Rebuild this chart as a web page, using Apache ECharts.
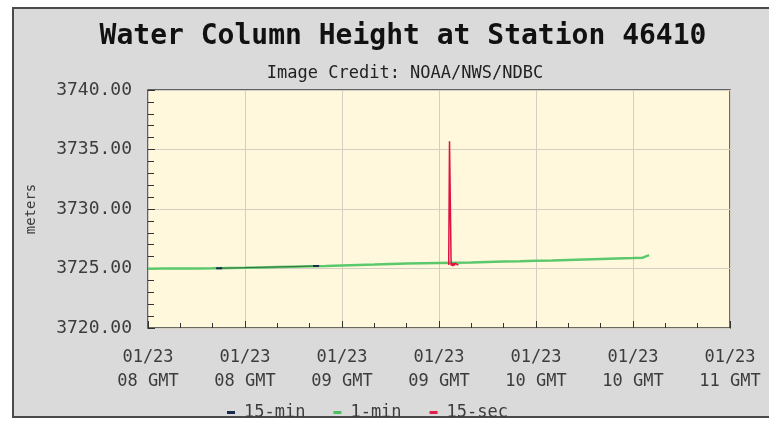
<!DOCTYPE html>
<html>
<head>
<meta charset="utf-8">
<script src="https://cdn.jsdelivr.net/npm/echarts@6/dist/echarts.min.js"></script>
<style>
  html, body { margin: 0; padding: 0; background: #ffffff; }
  #chart { width: 769px; height: 424px; }
</style>
</head>
<body>
<div id="chart"></div>
<script>
// times are GMT on 2018-01-23, written as "HH:MM" or "HH:MM:SS"
const day = [2018, 0, 23]
const toMs = (s) => {
  const p = s.split(':').map(Number)
  return Date.UTC(day[0], day[1], day[2], p[0], p[1], p[2] || 0)
}

// 1-min series (read every few minutes off the picture)
const oneMinTimes = ['08:00', '08:05', '08:10', '08:15', '08:20', '08:25', '08:30', '08:35', '08:40', '08:45',
  '08:50', '08:55', '09:00', '09:05', '09:10', '09:15', '09:20', '09:25', '09:30', '09:35',
  '09:40', '09:45', '09:50', '09:55', '10:00', '10:05', '10:10', '10:15', '10:20', '10:25',
  '10:30', '10:33', '10:35']
const oneMinValues = [3724.98, 3724.99, 3725.0, 3725.01, 3725.02, 3725.04, 3725.06, 3725.09, 3725.12, 3725.15,
  3725.18, 3725.21, 3725.25, 3725.29, 3725.33, 3725.38, 3725.42, 3725.45, 3725.47, 3725.49,
  3725.51, 3725.55, 3725.58, 3725.61, 3725.65, 3725.68, 3725.72, 3725.76, 3725.8, 3725.84,
  3725.88, 3725.91, 3726.12]

// 15-min series
const fifteenMinTimes = ['08:22', '08:52']
const fifteenMinValues = [3725.02, 3725.21]

// 15-sec series around the spike
const fifteenSecTimes = ['09:33:00', '09:33:15', '09:33:30', '09:33:45', '09:34:00', '09:34:15', '09:34:30',
  '09:34:45', '09:35:00', '09:35:15', '09:35:30', '09:35:45', '09:36:00']
const fifteenSecValues = [3725.3, 3735.7, 3730.6, 3725.25, 3725.45, 3725.2, 3725.45, 3725.25, 3725.45,
  3725.3, 3725.4, 3725.3, 3725.35]

// axis settings
const xStart = '08:00'
const xEnd = '11:00'
const xStepMin = 30
const yMin = 3720
const yMax = 3740
const yStep = 5
const seriesNames = ['15-min', '1-min', '15-sec']

const pairs = (times, values) => times.map((t, i) => [toMs(t), values[i]])
const pad = (n) => String(n).padStart(2, '0')

const chart = echarts.init(document.getElementById('chart'))

const monoFont = '"DejaVu Sans Mono", monospace'
const labelColor = '#3c3c3c'

const option = {
  backgroundColor: '#ffffff',
  animation: false,
  graphic: [
    {
      type: 'rect',
      shape: { x: 13, y: 8, width: 790, height: 409 },
      style: { fill: '#dadada', stroke: '#4a4a4a', lineWidth: 2 },
      z: -10
    }
  ],
  title: [
    {
      text: 'Water Column Height at Station 46410',
      left: 398,
      top: 18,
      textAlign: 'center',
      textStyle: { fontFamily: monoFont, fontWeight: 'bold', fontSize: 28, color: '#111111' }
    },
    {
      text: 'Image Credit: NOAA/NWS/NDBC',
      left: 400,
      top: 60,
      textAlign: 'center',
      textStyle: { fontFamily: monoFont, fontWeight: 'normal', fontSize: 17, color: '#222222' }
    }
  ],
  legend: {
    data: seriesNames,
    left: 222,
    top: 399,
    itemGap: 28,
    itemWidth: 8,
    itemHeight: 3,
    icon: 'rect',
    textStyle: { fontFamily: monoFont, fontSize: 17, color: labelColor, padding: [0, 0, 0, 4] }
  },
  grid: {
    left: 148,
    top: 90,
    right: 39,
    bottom: 96,
    show: true,
    backgroundColor: '#fff8dc',
    borderColor: '#3a3a3a',
    borderWidth: 1.5
  },
  xAxis: {
    type: 'value',
    min: toMs(xStart),
    max: toMs(xEnd),
    interval: xStepMin * 60 * 1000,
    axisLine: { show: false },
    axisTick: { inside: true, length: 7, lineStyle: { color: '#333333' } },
    minorTick: { show: true, splitNumber: 3, length: 5, lineStyle: { color: '#333333' } },
    splitLine: { show: true, lineStyle: { color: '#d4cfc0', width: 1 } },
    axisLabel: {
      margin: 18,
      fontFamily: monoFont,
      fontSize: 17,
      lineHeight: 24,
      color: labelColor,
      formatter: (v) => {
        const d = new Date(v)
        return pad(d.getUTCMonth() + 1) + '/' + pad(d.getUTCDate()) + '\n' + pad(d.getUTCHours()) + ' GMT'
      }
    }
  },
  yAxis: {
    type: 'value',
    min: yMin,
    max: yMax,
    interval: yStep,
    name: 'meters',
    nameLocation: 'middle',
    nameGap: 110,
    nameTextStyle: { fontFamily: monoFont, fontSize: 14, color: labelColor },
    axisLine: { show: false },
    axisTick: { inside: true, length: 7, lineStyle: { color: '#333333' } },
    minorTick: { show: true, splitNumber: 5, length: 6, lineStyle: { color: '#333333' } },
    splitLine: { show: true, lineStyle: { color: '#d4cfc0', width: 1 } },
    axisLabel: {
      margin: 16,
      fontFamily: monoFont,
      fontSize: 18,
      color: labelColor,
      formatter: (v) => v.toFixed(2)
    }
  },
  series: [
    {
      name: '1-min',
      type: 'line',
      data: pairs(oneMinTimes, oneMinValues),
      showSymbol: false,
      symbol: 'none',
      color: '#4cc060',
      lineStyle: { color: '#5cc86c', width: 2.5 },
      z: 2
    },
    {
      name: '15-min',
      type: 'line',
      data: pairs(fifteenMinTimes, fifteenMinValues),
      symbol: 'rect',
      symbolSize: [6, 2],
      color: '#2a2a9a',
      itemStyle: { color: '#1a2a4a' },
      lineStyle: { color: '#1a3a2a', width: 1, opacity: 0.6 },
      z: 3
    },
    {
      name: '15-sec',
      type: 'line',
      data: pairs(fifteenSecTimes, fifteenSecValues),
      showSymbol: false,
      symbol: 'none',
      color: '#e0204a',
      lineStyle: { color: '#e01040', width: 1.5 },
      z: 4
    }
  ]
}

chart.setOption(option)
</script>
</body>
</html>
